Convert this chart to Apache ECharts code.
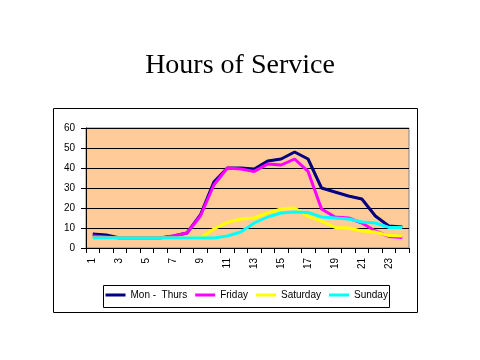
<!DOCTYPE html>
<html>
<head>
<meta charset="utf-8">
<script src="https://cdn.jsdelivr.net/npm/echarts@6/dist/echarts.min.js"></script>
<style>
html,body{margin:0;padding:0;background:#fff;}
#c{width:480px;height:360px;}
</style>
</head>
<body>
<div id="c"></div>
<script>
var hours = ['1','2','3','4','5','6','7','8','9','10','11','12','13','14','15','16','17','18','19','20','21','22','23','24'];
var monThurs = [7, 6.5, 5, 5, 5, 5, 6, 7.5, 16.5, 33, 40, 40, 39.5, 43.5, 44.5, 48, 44.5, 30, 28, 26, 24.5, 16, 11, 10.5];
var friday   = [6, 5.5, 5, 5, 5, 5, 6, 7.5, 16, 31.5, 40, 39.5, 38.3, 42, 41.5, 44.5, 38.3, 19.5, 15.5, 15, 12.5, 8.5, 5.8, 5.3];
var saturday = [5, 5, 5, 5, 5, 5, 5, 5, 5, 9.5, 12.8, 14.5, 15, 17.5, 19.5, 20, 15.8, 13.5, 10.3, 10, 8.5, 8, 6.2, 6];
var sunday   = [5, 5, 5, 5, 5, 5, 5, 5, 5, 5, 6, 8, 12.5, 15.5, 17.5, 18, 17.8, 15.5, 15, 14.5, 13, 12.5, 10.3, 10.3];
var seriesNames = ['Mon -  Thurs', 'Friday', 'Saturday', 'Sunday'];
var seriesColors = ['#000080', '#FF00FF', '#FFFF00', '#00FFFF'];
var seriesData = [monThurs, friday, saturday, sunday];

var chart = echarts.init(document.getElementById('c'), null, {renderer: 'canvas'});
var font = 'Arial, "Liberation Sans", sans-serif';
chart.setOption({
  animation: false,
  backgroundColor: '#ffffff',
  title: {
    text: 'Hours of Service',
    left: 'center',
    top: 47,
    textStyle: {fontFamily: '"Times New Roman", "Liberation Serif", serif', fontSize: 28, fontWeight: 'normal', color: '#000'}
  },
  graphic: [
    {type: 'rect', shape: {x: 53.5, y: 108.5, width: 364, height: 204}, style: {fill: 'none', stroke: '#000', lineWidth: 1}, z: -10},
    {type: 'rect', shape: {x: 103.5, y: 285.5, width: 286, height: 22}, style: {fill: 'none', stroke: '#000', lineWidth: 1}, z: 10}
  ],
  legend: {
    data: seriesNames,
    icon: 'rect',
    left: 105.5,
    top: 290,
    padding: 0,
    itemWidth: 20,
    itemHeight: 3,
    itemGap: 8,
    textStyle: {fontFamily: font, fontSize: 10, color: '#000'}
  },
  grid: {
    left: 86, right: 71, top: 128, bottom: 112,
    show: true, backgroundColor: '#FFCC99', borderColor: '#808080', borderWidth: 1
  },
  xAxis: {
    type: 'category',
    data: hours,
    boundaryGap: true,
    axisLine: {lineStyle: {color: '#000', width: 1}},
    axisTick: {show: true, interval: 0, length: 5, lineStyle: {color: '#000'}},
    axisLabel: {interval: 1, rotate: 90, margin: 10, fontFamily: font, fontSize: 10, color: '#000'},
    splitLine: {show: false}
  },
  yAxis: {
    type: 'value',
    min: 0, max: 60, interval: 10,
    axisLine: {show: true, lineStyle: {color: '#000', width: 1}},
    axisTick: {show: true, length: 5, lineStyle: {color: '#000'}},
    axisLabel: {margin: 11, fontFamily: font, fontSize: 10, color: '#000'},
    splitLine: {show: true, lineStyle: {color: '#000', width: 1}}
  },
  series: seriesData.map(function (d, i) {
    return {
      name: seriesNames[i],
      type: 'line',
      data: d,
      symbol: 'none',
      smooth: false,
      color: seriesColors[i],
      lineStyle: {color: seriesColors[i], width: 3}
    };
  })
});
</script>
</body>
</html>
